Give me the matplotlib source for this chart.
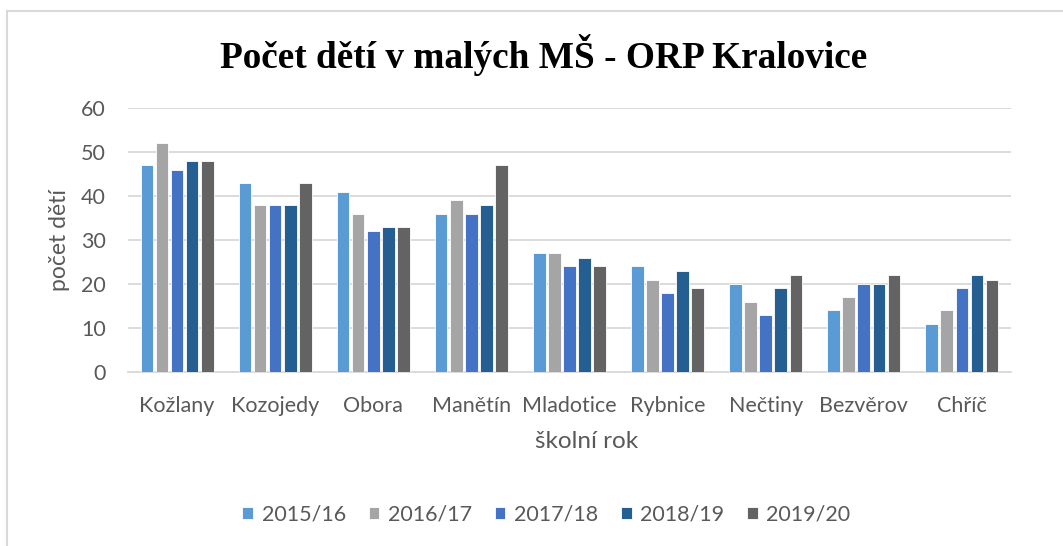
import numpy as np
import matplotlib.pyplot as plt
from matplotlib.lines import Line2D

skoly = ["Kožlany", "Kozojedy", "Obora", "Manětín", "Mladotice",
         "Rybnice", "Nečtiny", "Bezvěrov", "Chříč"]
roky = ["2015/16", "2016/17", "2017/18", "2018/19", "2019/20"]
r2015 = [47, 43, 41, 36, 27, 24, 20, 14, 11]
r2016 = [52, 38, 36, 39, 27, 21, 16, 17, 14]
r2017 = [46, 38, 32, 36, 24, 18, 13, 20, 19]
r2018 = [48, 38, 33, 38, 26, 23, 19, 20, 22]
r2019 = [48, 43, 33, 47, 24, 19, 22, 22, 21]
barvy = ["#5B9BD5", "#A5A5A5", "#4472C4", "#255E91", "#636363"]

serie = [r2015, r2016, r2017, r2018, r2019]
sedy = "#595959"
font = "Lato"
fs = 15.5

fig = plt.figure(figsize=(10.63, 5.46), dpi=100)
ax = fig.add_axes([0.1204, 0.3187, 0.8306, 0.4835])

x = np.arange(len(skoly))
slot = 0.154
for i, (vals, c) in enumerate(zip(serie, barvy)):
    ax.bar(x + (i - 2) * slot, vals, width=0.128, color=c, label=roky[i],
           edgecolor="white", linewidth=0.6, zorder=3)

ax.set_xlim(-0.5, len(skoly) - 0.5)
ax.set_ylim(0, 60)
ax.set_yticks(range(0, 61, 10))
ax.set_xticks(x)
ax.set_xticklabels(skoly)
ax.grid(axis="y", color="#D9D9D9", linewidth=1.3, zorder=0)
for s in ["top", "right", "left"]:
    ax.spines[s].set_visible(False)
ax.spines["bottom"].set_color("#D9D9D9")
ax.spines["bottom"].set_linewidth(1.3)
ax.tick_params(length=0, labelsize=fs, labelcolor=sedy)
ax.tick_params(axis="y", pad=16)
ax.tick_params(axis="x", pad=17)
for lab in ax.get_xticklabels() + ax.get_yticklabels():
    lab.set_family(font)

ax.set_xlabel("školní rok", fontsize=17.5, color=sedy, family=font)
ax.xaxis.set_label_coords(0.519, -0.222)
ax.set_ylabel("počet dětí", fontsize=16.5, color=sedy, family=font, labelpad=8)

fig.text(0.511, 0.90, "Počet dětí v malých MŠ - ORP Kralovice", ha="center",
         va="center", fontsize=26.8, fontweight="bold",
         family="Liberation Serif")

leg = fig.legend(loc="center", bbox_to_anchor=(0.514, 0.057), ncol=5,
                 frameon=False, handlelength=0.5, handleheight=0.5,
                 handletextpad=0.4, columnspacing=1.05,
                 prop={"family": font, "size": fs})
for t in leg.get_texts():
    t.set_color(sedy)

# ramecek grafu
fig.add_artist(Line2D([0.007, 0.007], [0, 0.979], color="#D9D9D9", lw=1.5,
                      transform=fig.transFigure))
fig.add_artist(Line2D([0.007, 1.0], [0.979, 0.979], color="#D9D9D9", lw=1.5,
                      transform=fig.transFigure))

fig.savefig("out.png", dpi=100)
